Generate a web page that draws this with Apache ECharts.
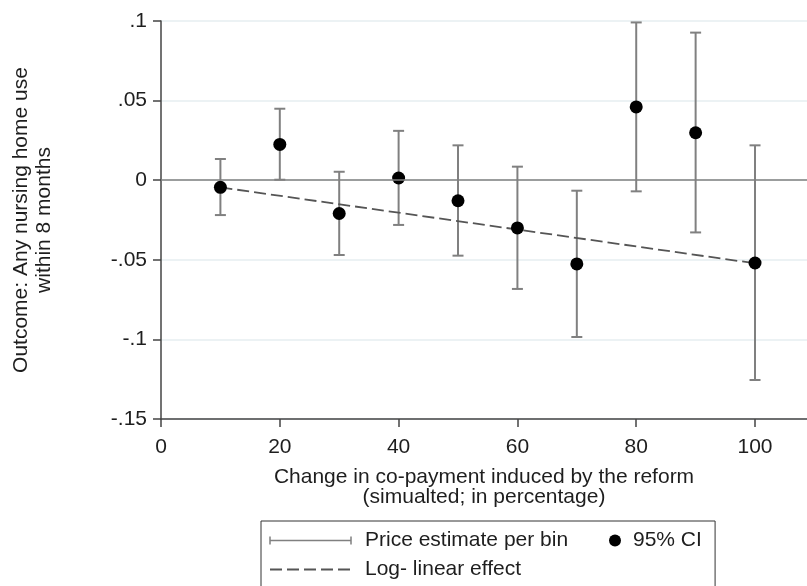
<!DOCTYPE html>
<html>
<head>
<meta charset="utf-8">
<script src="https://cdn.jsdelivr.net/npm/echarts@6/dist/echarts.min.js"></script>
<style>
  html, body { margin: 0; padding: 0; background: #fff; }
  #chart { width: 807px; height: 586px; }
</style>
</head>
<body>
<div id="chart"></div>
<script>
// ---- Data ----
var xBins     = [10, 20, 30, 40, 50, 60, 70, 80, 90, 100];
var estimates = [-0.0045, 0.0225, -0.0209, 0.0014, -0.0129, -0.0300, -0.0526, 0.0460, 0.0298, -0.0520];
var ciLower   = [-0.0219, 0.0003, -0.0470, -0.0281, -0.0474, -0.0683, -0.0985, -0.0070, -0.0328, -0.1255];
var ciUpper   = [0.0133, 0.0449, 0.0053, 0.0310, 0.0219, 0.0085, -0.0066, 0.0991, 0.0927, 0.0219];
var fitX      = [10, 100];
var fitY      = [-0.0045, -0.0522];
var xTickValues = [0, 20, 40, 60, 80, 100];
var xTickLabels = ['0', '20', '40', '60', '80', '100'];
var yTickValues = [-0.15, -0.1, -0.05, 0, 0.05, 0.1];
var yTickLabels = ['-.15', '-.1', '-.05', '0', '.05', '.1'];

var FONT = 'Liberation Sans, Arial, Helvetica, sans-serif';
var TEXT = '#1e1e1e';

var ciData = xBins.map(function (x, i) { return [x, ciLower[i], ciUpper[i]]; });
var ptData = xBins.map(function (x, i) { return [x, estimates[i]]; });
var fitData = fitX.map(function (x, i) { return [x, fitY[i]]; });

function labelFor(values, labels) {
  return function (v) {
    var best = -1, bd = Infinity;
    for (var i = 0; i < values.length; i++) {
      var d = Math.abs(values[i] - v);
      if (d < bd) { bd = d; best = i; }
    }
    return bd < 1e-6 ? labels[best] : '';
  };
}

var chart = echarts.init(document.getElementById('chart'), null, { renderer: 'canvas' });
chart.setOption({
  animation: false,
  backgroundColor: '#ffffff',
  textStyle: { fontFamily: FONT },
  grid: { left: 161, top: 21, right: 0, bottom: 167, containLabel: false },
  xAxis: {
    type: 'value',
    min: 0, max: 108.75, interval: 20,
    axisLine: { show: true, onZero: false, lineStyle: { color: '#444', width: 1.5 } },
    axisTick: { show: true, length: 8, customValues: xTickValues, lineStyle: { color: '#444', width: 1.5 } },
    axisLabel: { customValues: xTickValues, formatter: labelFor(xTickValues, xTickLabels),
                 fontSize: 21, color: TEXT, margin: 18, fontFamily: FONT },
    splitLine: { show: false },
    name: 'Change in co-payment induced by the reform\n(simualted; in percentage)',
    nameLocation: 'middle', nameGap: 48,
    nameTextStyle: { fontSize: 21, lineHeight: 20, color: TEXT, fontFamily: FONT }
  },
  yAxis: {
    type: 'value',
    min: -0.15, max: 0.1, interval: 0.05,
    axisLine: { show: true, onZero: false, lineStyle: { color: '#444', width: 1.5 } },
    axisTick: { show: true, length: 8, customValues: yTickValues, lineStyle: { color: '#444', width: 1.5 } },
    axisLabel: { customValues: yTickValues, formatter: labelFor(yTickValues, yTickLabels),
                 fontSize: 21, color: TEXT, margin: 14, fontFamily: FONT },
    splitLine: { show: true, lineStyle: { color: '#e6eef0', width: 1.5 } },
    name: 'Outcome: Any nursing home use\nwithin 8 months',
    nameLocation: 'middle', nameRotate: 90, nameGap: 105,
    nameTextStyle: { fontSize: 21, lineHeight: 23, color: TEXT, fontFamily: FONT }
  },
  legend: [
    {
      orient: 'vertical',
      left: 261, top: 521,
      height: 200,
      padding: [9, 147, 60, 8],
      itemGap: 8,
      itemWidth: 81, itemHeight: 8,
      borderColor: '#333', borderWidth: 1,
      selectedMode: false,
      textStyle: { fontSize: 21, lineHeight: 21, color: TEXT, fontFamily: FONT, padding: [0, 0, 0, 9] },
      data: [
        { name: 'Price estimate per bin',
          icon: 'path://M0,4L81,4M0,0L0,8M81,0L81,8',
          itemStyle: { color: 'rgba(0,0,0,0)', borderColor: '#808080', borderWidth: 1.5 } },
        { name: 'Log- linear effect',
          itemStyle: { color: 'rgba(0,0,0,0)', borderColor: 'rgba(0,0,0,0)', borderWidth: 0 } }
      ]
    },
    {
      orient: 'horizontal',
      left: 609, top: 530,
      padding: 0,
      itemWidth: 12, itemHeight: 12,
      selectedMode: false,
      textStyle: { fontSize: 21, lineHeight: 21, color: TEXT, fontFamily: FONT, padding: [0, 0, 0, 7] },
      data: [{ name: '95% CI', icon: 'circle', itemStyle: { color: '#000' } }]
    }
  ],
  series: [
    {
      name: 'Price estimate per bin',
      type: 'custom',
      data: ciData,
      encode: { x: 0, y: [1, 2] },
      z: 2,
      renderItem: function (params, api) {
        var x = api.value(0), lo = api.value(1), hi = api.value(2);
        var pLo = api.coord([x, lo]);
        var pHi = api.coord([x, hi]);
        var hw = 5.5;
        var st = { stroke: '#808080', lineWidth: 2, fill: null };
        return {
          type: 'group',
          children: [
            { type: 'line', shape: { x1: pLo[0], y1: pLo[1], x2: pHi[0], y2: pHi[1] }, style: st },
            { type: 'line', shape: { x1: pLo[0] - hw, y1: pLo[1], x2: pLo[0] + hw, y2: pLo[1] }, style: st },
            { type: 'line', shape: { x1: pHi[0] - hw, y1: pHi[1], x2: pHi[0] + hw, y2: pHi[1] }, style: st }
          ]
        };
      },
      markLine: {
        silent: true,
        symbol: ['none', 'none'],
        label: { show: false },
        lineStyle: { color: '#808080', width: 1.5, type: 'solid' },
        data: [{ yAxis: 0 }]
      }
    },
    {
      name: 'Log- linear effect',
      type: 'line',
      data: fitData,
      symbol: 'none',
      showSymbol: false,
      z: 3,
      lineStyle: { color: '#555', width: 1.8, type: [12, 5] },
      itemStyle: { color: '#555' }
    },
    {
      name: '95% CI',
      type: 'scatter',
      data: ptData,
      symbol: 'circle',
      symbolSize: 13,
      z: 4,
      itemStyle: { color: '#000', opacity: 1 }
    }
  ]
});
</script>
</body>
</html>
